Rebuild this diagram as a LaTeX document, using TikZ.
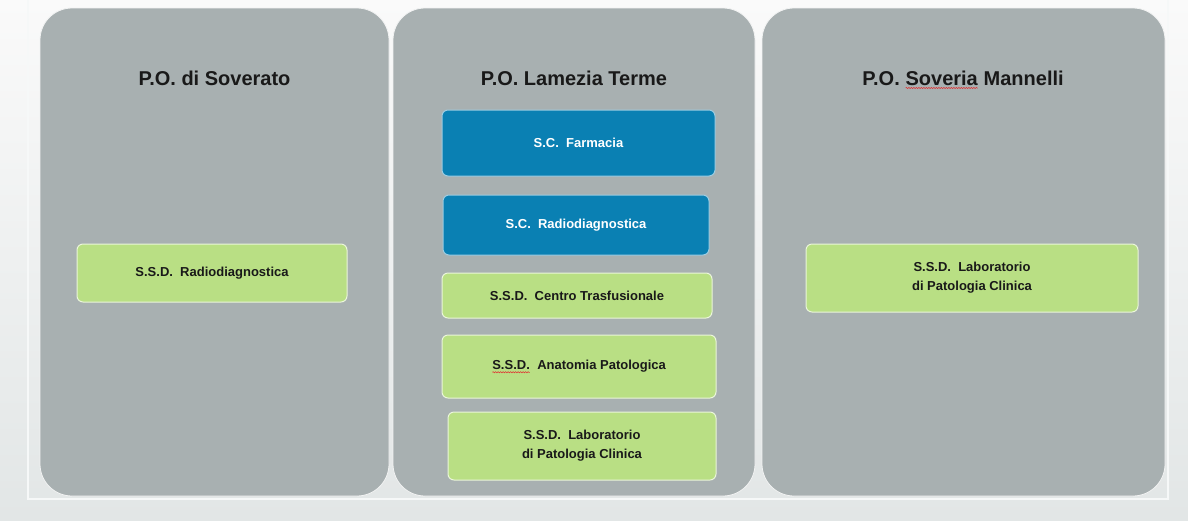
\documentclass[tikz,border=0pt]{standalone}
\usepackage{fontspec}
\setmainfont{Liberation Sans}
\usetikzlibrary{decorations.pathmorphing}
\definecolor{panelgray}{HTML}{A8B0B1}
\definecolor{bluebox}{HTML}{0A80B3}
\definecolor{greenbox}{HTML}{B9DF84}
\definecolor{bgtop}{HTML}{FAFAFA}
\definecolor{bgbot}{HTML}{E2E6E6}
\definecolor{spellred}{HTML}{E03030}
\tikzset{
  panel/.style={fill=panelgray, draw=white!85!panelgray, line width=0.8pt, rounded corners=32pt},
  ptitle/.style={font=\bfseries\fontsize{20}{24}\selectfont, text=black!90},
  unit/.style={rounded corners=6pt, draw=white!70!greenbox, line width=1pt, align=center, inner sep=0pt},
  greenunit/.style={unit, fill=greenbox, text=black!90, font=\bfseries\fontsize{13}{19}\selectfont},
  blueunit/.style={unit, fill=bluebox, draw=white!60!bluebox, text=white, font=\bfseries\fontsize{13}{19}\selectfont},
  plainword/.style={inner sep=0pt, outer sep=0pt, minimum width=0pt, minimum height=0pt, draw=none, fill=none, sharp corners, rectangle},
  squiggle/.style={draw=spellred, fill=none, sharp corners, line width=0.5pt, decorate, decoration={snake, amplitude=0.6pt, segment length=2.5pt}}
}
\newcommand{\spellmark}[1]{\tikz[baseline=(w.base)]{\node[plainword] (w) {#1}; \path[squiggle] ([yshift=-3pt]w.base west) -- ([yshift=-3pt]w.base east);}}
\begin{document}
\begin{tikzpicture}[x=1pt,y=-1pt]
\useasboundingbox (0,0) rectangle (1188,520);
\shade[top color=bgtop, bottom color=bgbot] (0,0) rectangle (1188,520);
\draw[white!70!bgbot, line width=1.2pt] (28,0) -- (28,499) -- (1168,499) -- (1168,0);
% panels
\path[panel] (40,8) rectangle (389,496);
\path[panel] (393,8) rectangle (755,496);
\path[panel] (762,8) rectangle (1165,496);
% titles
\node[ptitle] (t1) at (214.5,78) {P.O. di Soverato};
\node[ptitle] (t2) at (574,78) {P.O. Lamezia Terme};
\node[ptitle, anchor=base] (t3) at (963,85) {P.O. \spellmark{Soveria} Mannelli};
% left panel
\node[greenunit, minimum width=270pt, minimum height=58pt] (l1) at (212,273) {S.S.D.\ \ Radiodiagnostica};
% middle panel
\node[blueunit, minimum width=273pt, minimum height=66pt] (m1) at (578.5,143) {S.C.\ \ Farmacia};
\node[blueunit, minimum width=266pt, minimum height=60pt] (m2) at (576,225) {S.C.\ \ Radiodiagnostica};
\node[greenunit, minimum width=270pt, minimum height=45pt] (m3) at (577,295.5) {S.S.D.\ \ Centro Trasfusionale};
\node[greenunit, minimum width=274pt, minimum height=63pt] (m4) at (579,366.5) {\spellmark{S.S.D.}\ \ Anatomia Patologica};
\node[greenunit, minimum width=268pt, minimum height=68pt] (m5) at (582,446) {S.S.D.\ \ Laboratorio\\di Patologia Clinica};
% right panel
\node[greenunit, minimum width=332pt, minimum height=68pt] (r1) at (972,278) {S.S.D.\ \ Laboratorio\\di Patologia Clinica};
\end{tikzpicture}
\end{document}
